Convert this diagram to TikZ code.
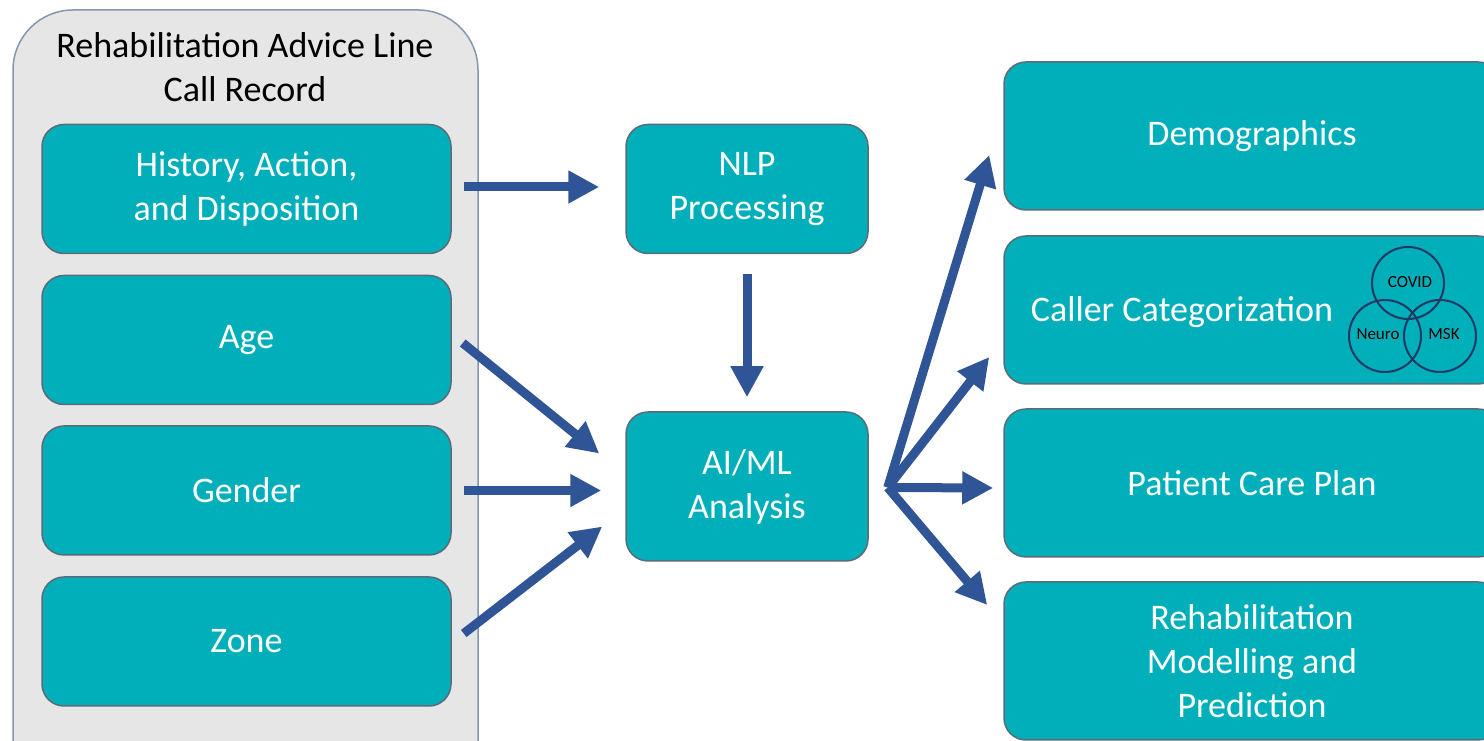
\documentclass[tikz,border=0pt]{standalone}
\usepackage{fontspec}
\setmainfont{Carlito}
\usepackage{tikz}
\usetikzlibrary{arrows.meta}

\definecolor{boxteal}{HTML}{00AFB9}
\definecolor{boxedge}{HTML}{5B6B7A}
\definecolor{panelgray}{HTML}{E7E6E6}
\definecolor{paneledge}{HTML}{8497B0}
\definecolor{flowblue}{HTML}{2F5597}
\definecolor{vennblue}{HTML}{1F3864}

\tikzset{
  field/.style={draw=boxedge, line width=1.5pt, fill=boxteal, rounded corners=22pt,
    text=white, align=center, font={\fontsize{36}{44}\selectfont},
    minimum width=409pt, minimum height=129pt, inner sep=0pt},
  stage/.style={field, minimum width=242pt},
  result/.style={field, minimum width=496pt, minimum height=148pt},
  flow/.style={draw=flowblue, line width=9pt, -{Triangle[length=31pt, width=31pt]}},
  venn/.style={draw=vennblue, line width=2pt, circle, minimum size=72pt, inner sep=0pt},
  vennlabel/.style={font={\fontsize{17}{20}\selectfont}, inner sep=0pt}
}

\begin{document}
\begin{tikzpicture}[x=1pt, y=1pt]
				\useasboundingbox (0,0) rectangle (1484,741);
				\clip (0,0) rectangle (1484,741);
				
				% Call record panel
				\node[draw=paneledge, line width=1.5pt, fill=panelgray, rounded corners=60pt,
				  minimum width=465pt, minimum height=820pt, inner sep=0pt] (record) at (245.5,321) {};
				\node[align=center, font={\fontsize{36}{44}\selectfont}] (title) at (245,674) {Rehabilitation Advice Line\\Call Record};
				
				% Call record fields
				\node[field] (history) at (246.5,552) {History, Action,\\and Disposition};
				\node[field] (age) at (246.5,401) {Age};
				\node[field] (gender) at (246.5,250.5) {Gender};
				\node[field] (zone) at (246.5,99.5) {Zone};
				
				% Processing
				\node[stage] (nlp) at (747,552) {NLP\\Processing};
				\node[stage, minimum height=149pt] (ai) at (747,254.5) {AI/ML\\Analysis};
				
				% Outputs
				\node[result] (demo) at (1252,605) {Demographics};
				\node[result] (caller) at (1252,431) {};
				\node[text=white, font={\fontsize{36}{44}\selectfont}] (callertext) at (1182,429) {Caller Categorization};
				\node[result] (plan) at (1252,258) {Patient Care Plan};
				\node[result, minimum height=158pt] (model) at (1252,80) {Rehabilitation\\Modelling and\\Prediction};
				
				% Venn diagram of caller groups
				\node[venn] (covid) at (1408,458) {};
				\node[venn] (neuro) at (1385,405) {};
				\node[venn] (msk) at (1440,405) {};
				\node[vennlabel] (covidtext) at (1410,459) {COVID};
				\node[vennlabel] (neurotext) at (1378,407) {Neuro};
				\node[vennlabel] (msktext) at (1444,407) {MSK};
				
				% Inputs to processing
				\draw[flow] ([xshift=12pt,yshift=2pt]history.east) -- ([xshift=-26pt,yshift=2pt]nlp.west);
				\draw[flow] ([yshift=-20pt]nlp.south) -- ([yshift=14pt]ai.north);
				\draw[flow] ([xshift=11pt,yshift=-3pt]age.east) -- ([xshift=-26pt,yshift=33pt]ai.west);
				\draw[flow] ([xshift=12pt]gender.east) -- ([xshift=-24pt,yshift=-4pt]ai.west);
				\draw[flow] ([xshift=12pt,yshift=8pt]zone.east) -- ([xshift=-23pt,yshift=-40pt]ai.west);
				
				% Fan out to results
				\coordinate (fan) at ([xshift=19pt,yshift=-1pt]ai.east);
				\draw[flow] (fan) -- ([xshift=-14pt,yshift=-19pt]demo.west);
				\draw[flow] (fan) -- ([xshift=-14pt,yshift=-47pt]caller.west);
				\draw[flow] (fan) -- ([xshift=-10pt,yshift=-5pt]plan.west);
				\draw[flow] (fan) -- ([xshift=-16pt,yshift=56pt]model.west);
				
			\end{tikzpicture}
\end{document}
